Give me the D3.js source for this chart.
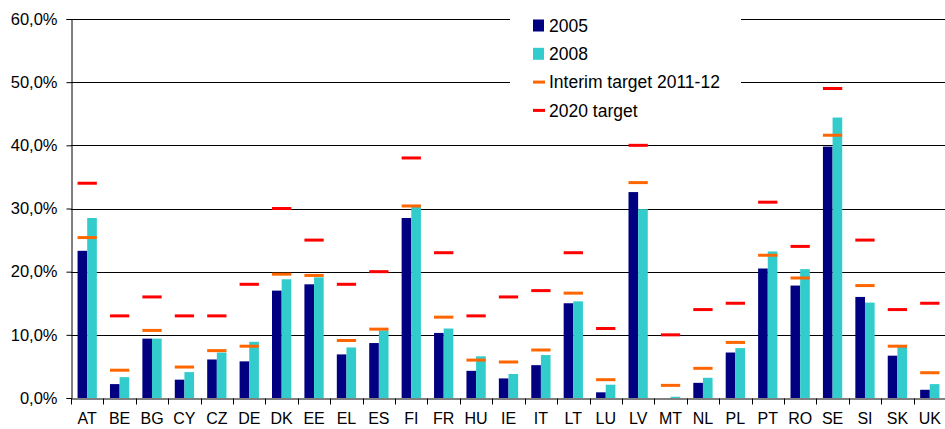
<!DOCTYPE html>
<html lang="en">
<head>
    <meta charset="utf-8">
    <title>Renewable energy share 2005 / 2008 and targets</title>
    <script src="https://d3js.org/d3.v7.min.js"></script>
    <style>
        body { margin: 0; background: #fff; }
        svg text { font-family: "Liberation Sans", Arial, sans-serif; fill: #000; }
    </style>
</head>
<body>
<div id="chart"></div>
<script>
    // data (share in %)
    const countries = ["AT","BE","BG","CY","CZ","DE","DK","EE","EL","ES","FI","FR","HU","IE","IT","LT","LU","LV","MT","NL","PL","PT","RO","SE","SI","SK","UK"];
    const share2005 = [23.3, 2.2, 9.4, 2.9, 6.1, 5.8, 17.0, 18.0, 6.9, 8.7, 28.5, 10.3, 4.3, 3.1, 5.2, 15.0, 0.9, 32.6, 0.0, 2.4, 7.2, 20.5, 17.8, 39.8, 16.0, 6.7, 1.3];
    const share2008 = [28.5, 3.3, 9.4, 4.1, 7.2, 8.9, 18.8, 19.1, 8.0, 10.7, 30.5, 11.0, 6.6, 3.8, 6.8, 15.3, 2.1, 29.9, 0.2, 3.2, 7.9, 23.2, 20.4, 44.4, 15.1, 8.2, 2.2];
    const interimTarget = [25.4, 4.4, 10.7, 4.9, 7.5, 8.2, 19.6, 19.4, 9.1, 10.9, 30.4, 12.8, 6.0, 5.7, 7.6, 16.6, 2.9, 34.1, 2.0, 4.7, 8.8, 22.6, 19.0, 41.6, 17.8, 8.2, 4.0];
    const target2020 = [34, 13, 16, 13, 13, 18, 30, 25, 18, 20, 38, 23, 13, 16, 17, 23, 11, 40, 10, 14, 15, 31, 24, 49, 25, 14, 15];
    const yTicks = [0, 10, 20, 30, 40, 50, 60];
    const seriesNames = ["2005", "2008"];
    const legendItems = ["2005", "2008", "Interim target 2011-12", "2020 target"];

    const width = 945, height = 429;
    const margin = {top: 19, right: -1, bottom: 31, left: 71};
    const colors = {"2005": "#000080", "2008": "#33cccc", interim: "#ff6600", target: "#ff0000"};

    const svg = d3.select("#chart").append("svg")
        .attr("width", width).attr("height", height);

    const x = d3.scaleBand()
        .domain(countries)
        .range([margin.left, width - margin.right]);

    const xSub = d3.scaleBand()
        .domain(seriesNames)
        .range([0, x.bandwidth()])
        .paddingOuter(0.68);

    const y = d3.scaleLinear()
        .domain([0, 60])
        .range([height - margin.bottom, margin.top]);

    // gridlines
    svg.append("g")
        .selectAll("line")
        .data(yTicks.filter(d => d > 0))
        .join("line")
        .attr("x1", margin.left).attr("x2", width - margin.right)
        .attr("y1", d => Math.round(y(d)) + 0.5).attr("y2", d => Math.round(y(d)) + 0.5)
        .attr("stroke", "#000").attr("stroke-width", 1);

    // y axis
    const yAxis = svg.append("g")
        .attr("transform", `translate(${margin.left + 0.5},0)`)
        .call(d3.axisLeft(y).tickValues(yTicks).tickSize(5).tickPadding(9)
            .tickFormat(d => d.toFixed(1).replace(".", ",") + "%"));
    yAxis.selectAll("text").style("font-size", "16.5px");
    yAxis.select(".domain").attr("stroke", "#000");

    // bars
    const rows = countries.map((c, i) => ({
        country: c,
        values: [
            {key: "2005", value: share2005[i]},
            {key: "2008", value: share2008[i]}
        ],
        interim: interimTarget[i],
        target: target2020[i]
    }));

    const groups = svg.append("g")
        .selectAll("g")
        .data(rows)
        .join("g")
        .attr("transform", d => `translate(${x(d.country)},0)`);

    groups.selectAll("rect")
        .data(d => d.values)
        .join("rect")
        .attr("x", d => xSub(d.key))
        .attr("width", xSub.bandwidth())
        .attr("y", d => y(d.value))
        .attr("height", d => y(0) - y(d.value))
        .attr("fill", d => colors[d.key]);

    // target markers
    const markX1 = xSub("2005"), markX2 = xSub("2008") + xSub.bandwidth();
    groups.append("line")
        .attr("x1", markX1).attr("x2", markX2)
        .attr("y1", d => y(d.interim)).attr("y2", d => y(d.interim))
        .attr("stroke", colors.interim).attr("stroke-width", 3);
    groups.append("line")
        .attr("x1", markX1).attr("x2", markX2)
        .attr("y1", d => y(d.target)).attr("y2", d => y(d.target))
        .attr("stroke", colors.target).attr("stroke-width", 3);

    // x axis: line, ticks between categories, labels
    const xAxis = svg.append("g")
        .attr("transform", `translate(0,${Math.round(y(0)) + 0.5})`)
        .call(d3.axisBottom(x).tickSize(0).tickPadding(14));
    xAxis.select(".domain").attr("stroke", "#000");
    xAxis.selectAll("text").style("font-size", "16px");
    xAxis.selectAll(".sep")
        .data(countries)
        .join("line")
        .attr("class", "sep")
        .attr("x1", d => Math.round(x(d)) + 0.5).attr("x2", d => Math.round(x(d)) + 0.5)
        .attr("y1", 0).attr("y2", 6)
        .attr("stroke", "#000");

    // legend
    const legend = svg.append("g");
    legend.append("rect")
        .attr("x", 510).attr("y", 8).attr("width", 231).attr("height", 118)
        .attr("fill", "#fff");
    const item = legend.selectAll("g")
        .data(legendItems)
        .join("g")
        .attr("transform", (d, i) => `translate(533,${25.5 + i * 28.3})`);
    item.filter((d, i) => i < 2).append("rect")
        .attr("x", 0).attr("y", -6).attr("width", 11).attr("height", 12)
        .attr("fill", (d, i) => colors[seriesNames[i]]);
    item.filter((d, i) => i >= 2).append("rect")
        .attr("x", 0).attr("y", -1.5).attr("width", 12).attr("height", 3)
        .attr("fill", (d, i) => i === 0 ? colors.interim : colors.target);
    item.append("text")
        .attr("x", 16).attr("dy", "0.35em")
        .style("font-size", "17.5px")
        .text(d => d);
</script>
</body>
</html>
